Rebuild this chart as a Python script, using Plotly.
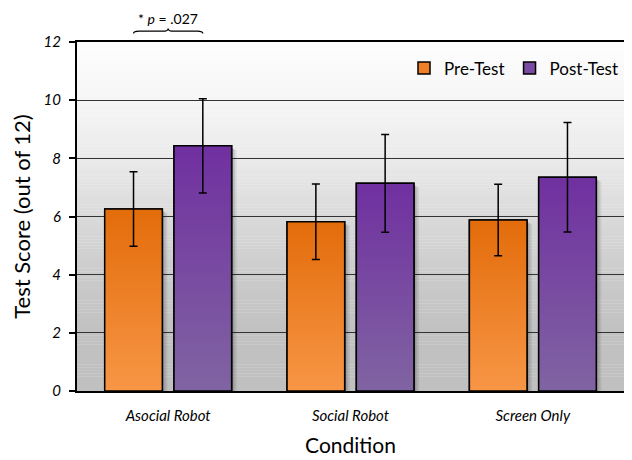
import plotly.graph_objects as go

# ---- data ----
categories = ["Asocial Robot", "Social Robot", "Screen Only"]
pre_scores = [6.26, 5.82, 5.88]
pre_err = [1.28, 1.30, 1.23]
post_scores = [8.43, 7.14, 7.35]
post_err = [1.62, 1.68, 1.88]
y_ticks = [0, 2, 4, 6, 8, 10, 12]
series_names = ["Pre-Test", "Post-Test"]
p_label = "* <i>p</i> = .027"

# ---- style ----
FONT = "Lato"
BAR_W = 0.316
OFFS = [-0.19, 0.19]
colors_top = ["#e36c0a", "#7030a0"]
colors_bot = ["#f79646", "#8064a2"]
colors_mid = ["#ee8128", "#7a4aa2"]

xs = list(range(len(categories)))
series = [(pre_scores, pre_err), (post_scores, post_err)]

fig = go.Figure()

# real bars (solid, carry the legend)
for i, (vals, errs) in enumerate(series):
    fig.add_trace(go.Bar(
        x=xs, y=vals, name=series_names[i], width=BAR_W,
        offset=OFFS[i] - BAR_W / 2,
        marker=dict(color=colors_mid[i], line=dict(color="black", width=1.5)),
        hoverinfo="skip",
    ))

# soft shadows to the right of the bars
for i, (vals, errs) in enumerate(series):
    for c, v in zip(xs, vals):
        x1 = c + OFFS[i] + BAR_W / 2
        for dx, a in [(0.028, 0.07), (0.018, 0.09), (0.009, 0.12)]:
            fig.add_trace(go.Scatter(
                x=[x1, x1, x1 + dx, x1 + dx, x1], y=[0, v - 0.05, v - 0.15, 0, 0],
                mode="lines", fill="toself", line=dict(width=0),
                fillcolor=f"rgba(0,0,0,{a})", showlegend=False, hoverinfo="skip",
            ))

# gradient faces of the same bars
for i, (vals, errs) in enumerate(series):
    for c, v in zip(xs, vals):
        x0 = c + OFFS[i] - BAR_W / 2
        x1 = x0 + BAR_W
        fig.add_trace(go.Scatter(
            x=[x0, x0, x1, x1, x0], y=[0, v, v, 0, 0],
            mode="lines", fill="toself",
            line=dict(color="black", width=1.5),
            fillgradient=dict(type="vertical", start=0, stop=v,
                              colorscale=[[0, colors_bot[i]], [1, colors_top[i]]]),
            showlegend=False, hoverinfo="skip",
        ))

# error bars
for i, (vals, errs) in enumerate(series):
    fig.add_trace(go.Scatter(
        x=[c + OFFS[i] for c in xs], y=vals, mode="markers",
        marker=dict(size=1, color="rgba(0,0,0,0)"),
        error_y=dict(type="data", array=errs, visible=True, color="black",
                     thickness=1.5, width=4),
        showlegend=False, hoverinfo="skip",
    ))

# background vertical gradient (bands)
stops = [(0, 192), (2, 193), (4, 203), (6, 218), (8, 234), (10, 246), (12, 253)]
def grey_at(y):
    for (ya, ga), (yb, gb) in zip(stops[:-1], stops[1:]):
        if ya <= y <= yb:
            return ga + (gb - ga) * (y - ya) / (yb - ya)
    return stops[-1][1]
N = 120
shapes = []
for k in range(N):
    y0 = 12 * k / N
    y1 = 12 * (k + 1) / N
    g = int(round(grey_at((y0 + y1) / 2)))
    shapes.append(dict(type="rect", xref="paper", yref="y", x0=0, x1=1,
                       y0=y0, y1=y1 + 0.01, fillcolor=f"rgb({g},{g},{g})",
                       line=dict(width=0), layer="below"))

# curly brace above first group (from pre centre to post centre)
bx0, bx1 = OFFS[0], OFFS[1]
bm = (bx0 + bx1) / 2
d = 0.03
ye, ym, yt = 1.024, 1.031, 1.039
path = (f"M {bx0},{ye} Q {bx0},{ym} {bx0 + d},{ym} L {bm - d},{ym} "
        f"Q {bm},{ym} {bm},{yt} Q {bm},{ym} {bm + d},{ym} "
        f"L {bx1 - d},{ym} Q {bx1},{ym} {bx1},{ye}")
shapes.append(dict(type="path", xref="x", yref="paper", path=path,
                   line=dict(color="black", width=1.2)))

# the page body has an 8px margin, so the figure is 8px smaller than the window
fig.update_layout(
    width=624, height=452,
    margin=dict(l=68, r=6, t=34, b=69),
    paper_bgcolor="white", plot_bgcolor="rgba(0,0,0,0)",
    barmode="overlay",
    font=dict(family=FONT, color="black"),
    shapes=shapes,
    legend=dict(orientation="h", x=1.0, xanchor="right", y=0.924, yanchor="middle",
                font=dict(size=17, family=FONT), bgcolor="rgba(0,0,0,0)",
                itemwidth=30, traceorder="normal"),
    annotations=[dict(x=bm, y=1.066, xref="x", yref="paper",
                      text=p_label, showarrow=False,
                      font=dict(size=14, family=FONT), yanchor="middle")],
    showlegend=True,
)

fig.update_xaxes(
    range=[-0.5, 2.5], tickvals=xs, ticktext=categories,
    tickfont=dict(size=15, style="italic", family=FONT),
    ticks="", showgrid=False, zeroline=False,
    showline=True, linecolor="black", linewidth=2, mirror=True,
    ticklabelstandoff=10,
    title=dict(text="Condition", font=dict(size=21, family=FONT), standoff=15),
)
fig.update_yaxes(
    range=[0, 12], tickvals=y_ticks,
    tickfont=dict(size=15, style="italic", family=FONT),
    ticks="outside", ticklen=6, tickwidth=2, tickcolor="black",
    showgrid=True, gridcolor="#333333", gridwidth=1.2, zeroline=False,
    showline=True, linecolor="black", linewidth=2, mirror=True,
    ticklabelstandoff=5,
    title=dict(text="Test Score (out of 12)", font=dict(size=22, family=FONT), standoff=14),
)

fig.write_html("out.html")
